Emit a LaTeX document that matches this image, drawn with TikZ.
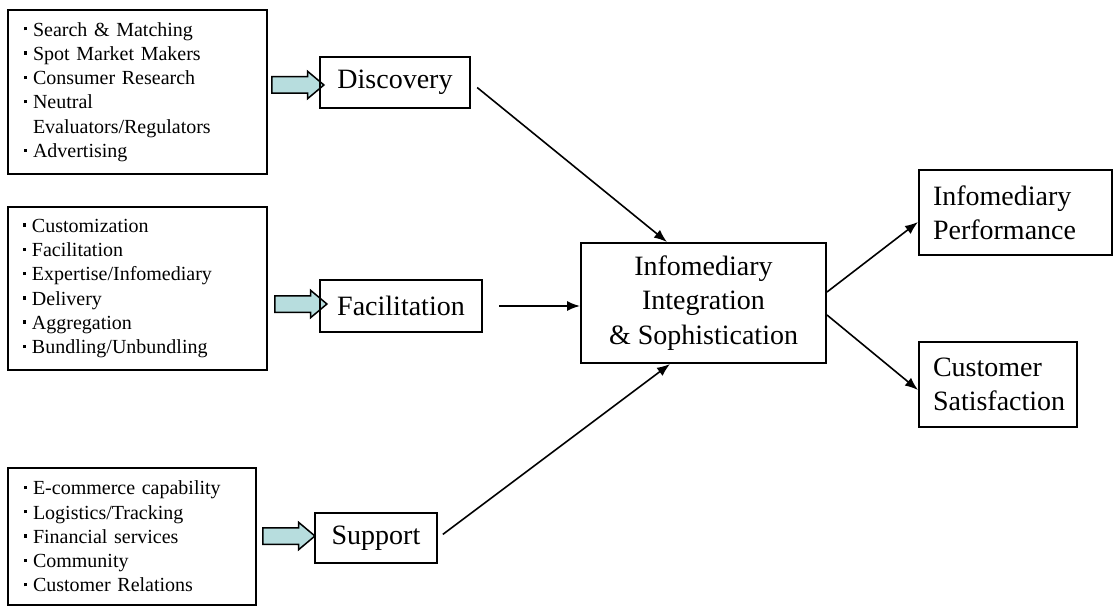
\documentclass[tikz,border=0pt]{standalone}
\usepackage{fontspec}
\setmainfont{Liberation Serif}
\usepackage{tikz}
\usetikzlibrary{arrows.meta,shapes.arrows,positioning}
\usepackage{xcolor}
\definecolor{arrowfill}{RGB}{183,221,222}
\newcommand{\bulit}{\makebox[0.45em][l]{\rule[0.28em]{0.17em}{0.17em}}}

\begin{document}
\begin{tikzpicture}[x=1pt, y=-1pt,
	listbox/.style={draw, line width=2pt, align=left, inner ysep=0pt,
		font=\fontsize{20}{24.3}\selectfont},
	stagebox/.style={draw, line width=2pt, inner sep=0pt, align=center,
		font=\fontsize{28}{34.5}\selectfont},
	outbox/.style={draw, line width=2pt, inner xsep=14pt, inner ysep=0pt,
		align=left, font=\fontsize{28}{34}\selectfont},
	fatarr/.style={single arrow, draw, fill=arrowfill, line width=1.5pt,
		inner sep=7.5pt, minimum height=52pt, single arrow head extend=5.5pt,
		single arrow tip angle=80},
	arr/.style={-{Latex[length=13pt, width=10pt]}, line width=1.6pt}
]
	\useasboundingbox (0,0) rectangle (1114,607);
	\node[listbox, text width=227pt, inner xsep=16pt, minimum height=164pt] (lsdisc) at (137.5, 92)
		{\bulit Search \& Matching\\ \bulit Spot Market Makers\\ \bulit Consumer Research\\
		 \bulit Neutral\\ \hspace*{0.45em}Evaluators/Regulators\\ \bulit Advertising};
	\node[listbox, text width=229pt, inner xsep=15pt, minimum height=163pt] (lsfac) at (137.5, 288.5)
		{\bulit Customization\\ \bulit Facilitation\\ \bulit Expertise/Infomediary\\
		 \bulit Delivery\\ \bulit Aggregation\\ \bulit Bundling/Unbundling};
	\node[listbox, text width=216pt, inner xsep=16pt, minimum height=137pt] (lssup) at (132, 536.5)
		{\bulit E-commerce capability\\ \bulit Logistics/Tracking\\ \bulit Financial services\\
		 \bulit Community\\ \bulit Customer Relations};
	\node[fatarr] (fdisc) at (293, 85) {};
	\node[fatarr] (ffac) at (296, 304) {};
	\node[fatarr] (fsup) at (284, 536) {};
	\node[stagebox, minimum width=150pt, minimum height=51pt] (disc) at (395, 82.5) {Discovery};
	\node[stagebox, minimum width=162pt, minimum height=52pt] (fac) at (401, 306) {Facilitation};
	\node[stagebox, minimum width=122pt, minimum height=50pt] (sup) at (376, 538) {Support};
	\node[stagebox, minimum width=245pt, minimum height=120pt] (hub) at (703.5, 303)
		{Infomediary\\ Integration\\ \& Sophistication};
	\node[outbox, text width=165pt, minimum height=85pt] (perf) at (1015.5, 212.5)
		{Infomediary\\ Performance};
	\node[outbox, text width=130pt, minimum height=85pt] (sat) at (998, 384.5)
		{Customer\\ Satisfaction};
	\draw[arr, shorten <=8pt] (disc.east) -- ([xshift=-36.5pt]hub.north);
	\draw[arr, shorten <=16pt] (fac.east) -- (fac.east -| hub.west);
	\draw[arr, shorten <=6pt] (sup.east) -- ([xshift=-33.5pt]hub.south);
	\draw[arr] ([yshift=11pt]hub.east) -- ([yshift=-9.5pt]perf.west);
	\draw[arr] ([yshift=-12pt]hub.east) -- ([yshift=-5.5pt]sat.west);
\end{tikzpicture}
\end{document}
